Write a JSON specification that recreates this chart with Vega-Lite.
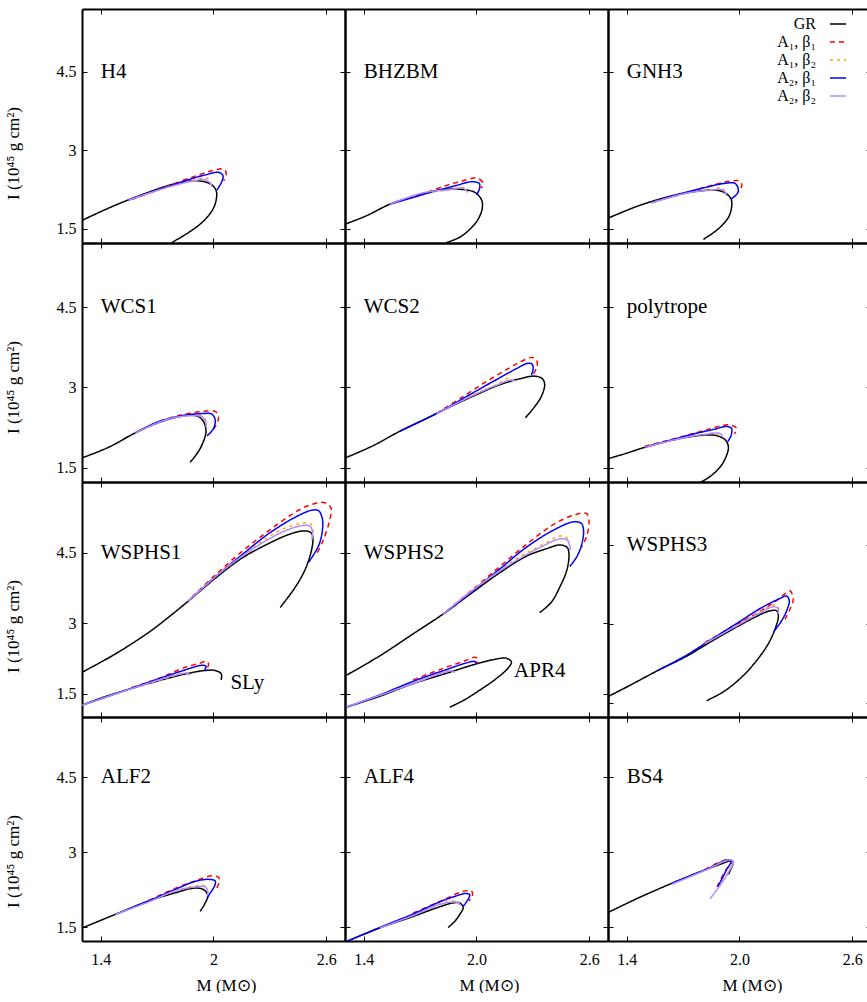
{
"$schema": "https://vega.github.io/schema/vega-lite/v6.json",
"padding": {"left": 4, "top": 8, "right": 0, "bottom": 0},
"datasets": {"curves": [
{"e":"H4","s":"GR","o":1,"M":1.30,"I":1.66},{"e":"H4","s":"GR","o":2,"M":1.406,"I":1.84},{"e":"H4","s":"GR","o":3,"M":1.53,"I":2.03},{"e":"H4","s":"GR","o":4,"M":1.655,"I":2.2},{"e":"H4","s":"GR","o":5,"M":1.761,"I":2.33},{"e":"H4","s":"GR","o":6,"M":1.867,"I":2.41},{"e":"H4","s":"GR","o":7,"M":1.938,"I":2.41},{"e":"H4","s":"GR","o":8,"M":1.991,"I":2.34},{"e":"H4","s":"GR","o":9,"M":2.015,"I":2.22},{"e":"H4","s":"GR","o":10,"M":2.013,"I":2.03},{"e":"H4","s":"GR","o":11,"M":1.991,"I":1.84},{"e":"H4","s":"GR","o":12,"M":1.938,"I":1.62},{"e":"H4","s":"GR","o":13,"M":1.867,"I":1.43},{"e":"H4","s":"GR","o":14,"M":1.779,"I":1.24},
{"e":"H4","s":"A₁, β₁","o":1,"M":1.566,"I":2.06},{"e":"H4","s":"A₁, β₁","o":2,"M":1.708,"I":2.25},{"e":"H4","s":"A₁, β₁","o":3,"M":1.832,"I":2.42},{"e":"H4","s":"A₁, β₁","o":4,"M":1.921,"I":2.53},{"e":"H4","s":"A₁, β₁","o":5,"M":1.991,"I":2.61},{"e":"H4","s":"A₁, β₁","o":6,"M":2.054,"I":2.64},{"e":"H4","s":"A₁, β₁","o":7,"M":2.068,"I":2.56},{"e":"H4","s":"A₁, β₁","o":8,"M":2.054,"I":2.42},
{"e":"H4","s":"A₁, β₂","o":1,"M":1.566,"I":2.06},{"e":"H4","s":"A₁, β₂","o":2,"M":1.743,"I":2.29},{"e":"H4","s":"A₁, β₂","o":3,"M":1.885,"I":2.42},{"e":"H4","s":"A₁, β₂","o":4,"M":1.965,"I":2.47},{"e":"H4","s":"A₁, β₂","o":5,"M":1.983,"I":2.41},{"e":"H4","s":"A₁, β₂","o":6,"M":1.988,"I":2.34},
{"e":"H4","s":"A₂, β₁","o":1,"M":1.548,"I":2.05},{"e":"H4","s":"A₂, β₁","o":2,"M":1.655,"I":2.19},{"e":"H4","s":"A₂, β₁","o":3,"M":1.761,"I":2.31},{"e":"H4","s":"A₂, β₁","o":4,"M":1.867,"I":2.44},{"e":"H4","s":"A₂, β₁","o":5,"M":1.956,"I":2.53},{"e":"H4","s":"A₂, β₁","o":6,"M":2.027,"I":2.58},{"e":"H4","s":"A₂, β₁","o":7,"M":2.05,"I":2.52},{"e":"H4","s":"A₂, β₁","o":8,"M":2.045,"I":2.41},{"e":"H4","s":"A₂, β₁","o":9,"M":2.018,"I":2.24},
{"e":"H4","s":"A₂, β₂","o":1,"M":1.548,"I":2.05},{"e":"H4","s":"A₂, β₂","o":2,"M":1.743,"I":2.28},{"e":"H4","s":"A₂, β₂","o":3,"M":1.885,"I":2.41},{"e":"H4","s":"A₂, β₂","o":4,"M":1.956,"I":2.44},{"e":"H4","s":"A₂, β₂","o":5,"M":1.983,"I":2.37},{"e":"H4","s":"A₂, β₂","o":6,"M":1.991,"I":2.3},

{"e":"BHZBM","s":"GR","o":1,"M":1.308,"I":1.6},{"e":"BHZBM","s":"GR","o":2,"M":1.414,"I":1.75},{"e":"BHZBM","s":"GR","o":3,"M":1.538,"I":1.97},{"e":"BHZBM","s":"GR","o":4,"M":1.663,"I":2.12},{"e":"BHZBM","s":"GR","o":5,"M":1.769,"I":2.22},{"e":"BHZBM","s":"GR","o":6,"M":1.858,"I":2.26},{"e":"BHZBM","s":"GR","o":7,"M":1.929,"I":2.25},{"e":"BHZBM","s":"GR","o":8,"M":1.99,"I":2.2},{"e":"BHZBM","s":"GR","o":9,"M":2.026,"I":2.06},{"e":"BHZBM","s":"GR","o":10,"M":2.031,"I":1.9},{"e":"BHZBM","s":"GR","o":11,"M":2.008,"I":1.68},{"e":"BHZBM","s":"GR","o":12,"M":1.964,"I":1.49},{"e":"BHZBM","s":"GR","o":13,"M":1.911,"I":1.34},{"e":"BHZBM","s":"GR","o":14,"M":1.84,"I":1.24},
{"e":"BHZBM","s":"A₁, β₁","o":1,"M":1.556,"I":2.0},{"e":"BHZBM","s":"A₁, β₁","o":2,"M":1.698,"I":2.15},{"e":"BHZBM","s":"A₁, β₁","o":3,"M":1.84,"I":2.33},{"e":"BHZBM","s":"A₁, β₁","o":4,"M":1.929,"I":2.42},{"e":"BHZBM","s":"A₁, β₁","o":5,"M":2.003,"I":2.47},{"e":"BHZBM","s":"A₁, β₁","o":6,"M":2.035,"I":2.37},{"e":"BHZBM","s":"A₁, β₁","o":7,"M":2.026,"I":2.28},
{"e":"BHZBM","s":"A₁, β₂","o":1,"M":1.556,"I":2.0},{"e":"BHZBM","s":"A₁, β₂","o":2,"M":1.716,"I":2.17},{"e":"BHZBM","s":"A₁, β₂","o":3,"M":1.858,"I":2.25},{"e":"BHZBM","s":"A₁, β₂","o":4,"M":1.929,"I":2.29},{"e":"BHZBM","s":"A₁, β₂","o":5,"M":1.946,"I":2.24},{"e":"BHZBM","s":"A₁, β₂","o":6,"M":1.95,"I":2.2},
{"e":"BHZBM","s":"A₂, β₁","o":1,"M":1.538,"I":1.97},{"e":"BHZBM","s":"A₂, β₁","o":2,"M":1.663,"I":2.1},{"e":"BHZBM","s":"A₂, β₁","o":3,"M":1.787,"I":2.23},{"e":"BHZBM","s":"A₂, β₁","o":4,"M":1.893,"I":2.33},{"e":"BHZBM","s":"A₂, β₁","o":5,"M":1.973,"I":2.4},{"e":"BHZBM","s":"A₂, β₁","o":6,"M":2.014,"I":2.37},{"e":"BHZBM","s":"A₂, β₁","o":7,"M":2.017,"I":2.28},{"e":"BHZBM","s":"A₂, β₁","o":8,"M":2.0,"I":2.15},
{"e":"BHZBM","s":"A₂, β₂","o":1,"M":1.538,"I":1.97},{"e":"BHZBM","s":"A₂, β₂","o":2,"M":1.716,"I":2.19},{"e":"BHZBM","s":"A₂, β₂","o":3,"M":1.858,"I":2.25},{"e":"BHZBM","s":"A₂, β₂","o":4,"M":1.925,"I":2.28},{"e":"BHZBM","s":"A₂, β₂","o":5,"M":1.946,"I":2.23},{"e":"BHZBM","s":"A₂, β₂","o":6,"M":1.95,"I":2.19},

{"e":"GNH3","s":"GR","o":1,"M":1.285,"I":1.68},{"e":"GNH3","s":"GR","o":2,"M":1.462,"I":1.94},{"e":"GNH3","s":"GR","o":3,"M":1.639,"I":2.13},{"e":"GNH3","s":"GR","o":4,"M":1.781,"I":2.22},{"e":"GNH3","s":"GR","o":5,"M":1.87,"I":2.24},{"e":"GNH3","s":"GR","o":6,"M":1.923,"I":2.19},{"e":"GNH3","s":"GR","o":7,"M":1.955,"I":2.07},{"e":"GNH3","s":"GR","o":8,"M":1.958,"I":1.91},{"e":"GNH3","s":"GR","o":9,"M":1.941,"I":1.72},{"e":"GNH3","s":"GR","o":10,"M":1.887,"I":1.5},{"e":"GNH3","s":"GR","o":11,"M":1.808,"I":1.3},
{"e":"GNH3","s":"A₁, β₁","o":1,"M":1.551,"I":2.03},{"e":"GNH3","s":"A₁, β₁","o":2,"M":1.728,"I":2.2},{"e":"GNH3","s":"A₁, β₁","o":3,"M":1.87,"I":2.35},{"e":"GNH3","s":"A₁, β₁","o":4,"M":1.95,"I":2.41},{"e":"GNH3","s":"A₁, β₁","o":5,"M":2.003,"I":2.41},{"e":"GNH3","s":"A₁, β₁","o":6,"M":2.012,"I":2.32},{"e":"GNH3","s":"A₁, β₁","o":7,"M":1.994,"I":2.2},
{"e":"GNH3","s":"A₁, β₂","o":1,"M":1.551,"I":2.02},{"e":"GNH3","s":"A₁, β₂","o":2,"M":1.728,"I":2.19},{"e":"GNH3","s":"A₁, β₂","o":3,"M":1.852,"I":2.25},{"e":"GNH3","s":"A₁, β₂","o":4,"M":1.905,"I":2.29},{"e":"GNH3","s":"A₁, β₂","o":5,"M":1.92,"I":2.22},{"e":"GNH3","s":"A₁, β₂","o":6,"M":1.923,"I":2.18},
{"e":"GNH3","s":"A₂, β₁","o":1,"M":1.533,"I":2.0},{"e":"GNH3","s":"A₂, β₁","o":2,"M":1.675,"I":2.16},{"e":"GNH3","s":"A₂, β₁","o":3,"M":1.817,"I":2.29},{"e":"GNH3","s":"A₂, β₁","o":4,"M":1.923,"I":2.37},{"e":"GNH3","s":"A₂, β₁","o":5,"M":1.976,"I":2.37},{"e":"GNH3","s":"A₂, β₁","o":6,"M":1.994,"I":2.25},{"e":"GNH3","s":"A₂, β₁","o":7,"M":1.985,"I":2.16},{"e":"GNH3","s":"A₂, β₁","o":8,"M":1.955,"I":2.07},
{"e":"GNH3","s":"A₂, β₂","o":1,"M":1.533,"I":2.0},{"e":"GNH3","s":"A₂, β₂","o":2,"M":1.728,"I":2.19},{"e":"GNH3","s":"A₂, β₂","o":3,"M":1.852,"I":2.24},{"e":"GNH3","s":"A₂, β₂","o":4,"M":1.905,"I":2.25},{"e":"GNH3","s":"A₂, β₂","o":5,"M":1.926,"I":2.19},{"e":"GNH3","s":"A₂, β₂","o":6,"M":1.93,"I":2.13},

{"e":"WCS1","s":"GR","o":1,"M":1.3,"I":1.68},{"e":"WCS1","s":"GR","o":2,"M":1.442,"I":1.88},{"e":"WCS1","s":"GR","o":3,"M":1.584,"I":2.15},{"e":"WCS1","s":"GR","o":4,"M":1.708,"I":2.34},{"e":"WCS1","s":"GR","o":5,"M":1.814,"I":2.45},{"e":"WCS1","s":"GR","o":6,"M":1.885,"I":2.48},{"e":"WCS1","s":"GR","o":7,"M":1.921,"I":2.45},{"e":"WCS1","s":"GR","o":8,"M":1.947,"I":2.36},{"e":"WCS1","s":"GR","o":9,"M":1.96,"I":2.17},{"e":"WCS1","s":"GR","o":10,"M":1.938,"I":1.92},{"e":"WCS1","s":"GR","o":11,"M":1.912,"I":1.76},{"e":"WCS1","s":"GR","o":12,"M":1.876,"I":1.6},
{"e":"WCS1","s":"A₁, β₁","o":1,"M":1.584,"I":2.15},{"e":"WCS1","s":"A₁, β₁","o":2,"M":1.726,"I":2.38},{"e":"WCS1","s":"A₁, β₁","o":3,"M":1.85,"I":2.5},{"e":"WCS1","s":"A₁, β₁","o":4,"M":1.947,"I":2.55},{"e":"WCS1","s":"A₁, β₁","o":5,"M":2.009,"I":2.55},{"e":"WCS1","s":"A₁, β₁","o":6,"M":2.027,"I":2.45},{"e":"WCS1","s":"A₁, β₁","o":7,"M":2.013,"I":2.29},{"e":"WCS1","s":"A₁, β₁","o":8,"M":1.983,"I":2.14},
{"e":"WCS1","s":"A₁, β₂","o":1,"M":1.601,"I":2.18},{"e":"WCS1","s":"A₁, β₂","o":2,"M":1.761,"I":2.41},{"e":"WCS1","s":"A₁, β₂","o":3,"M":1.885,"I":2.48},{"e":"WCS1","s":"A₁, β₂","o":4,"M":1.938,"I":2.47},{"e":"WCS1","s":"A₁, β₂","o":5,"M":1.96,"I":2.37},{"e":"WCS1","s":"A₁, β₂","o":6,"M":1.963,"I":2.29},
{"e":"WCS1","s":"A₂, β₁","o":1,"M":1.584,"I":2.15},{"e":"WCS1","s":"A₂, β₁","o":2,"M":1.708,"I":2.36},{"e":"WCS1","s":"A₂, β₁","o":3,"M":1.832,"I":2.47},{"e":"WCS1","s":"A₂, β₁","o":4,"M":1.938,"I":2.51},{"e":"WCS1","s":"A₂, β₁","o":5,"M":1.991,"I":2.5},{"e":"WCS1","s":"A₂, β₁","o":6,"M":2.009,"I":2.39},{"e":"WCS1","s":"A₂, β₁","o":7,"M":2.0,"I":2.23},{"e":"WCS1","s":"A₂, β₁","o":8,"M":1.965,"I":2.09},
{"e":"WCS1","s":"A₂, β₂","o":1,"M":1.584,"I":2.15},{"e":"WCS1","s":"A₂, β₂","o":2,"M":1.761,"I":2.41},{"e":"WCS1","s":"A₂, β₂","o":3,"M":1.885,"I":2.47},{"e":"WCS1","s":"A₂, β₂","o":4,"M":1.938,"I":2.45},{"e":"WCS1","s":"A₂, β₂","o":5,"M":1.96,"I":2.35},{"e":"WCS1","s":"A₂, β₂","o":6,"M":1.96,"I":2.26},

{"e":"WCS2","s":"GR","o":1,"M":1.308,"I":1.69},{"e":"WCS2","s":"GR","o":2,"M":1.45,"I":1.91},{"e":"WCS2","s":"GR","o":3,"M":1.592,"I":2.18},{"e":"WCS2","s":"GR","o":4,"M":1.734,"I":2.42},{"e":"WCS2","s":"GR","o":5,"M":1.875,"I":2.66},{"e":"WCS2","s":"GR","o":6,"M":2.017,"I":2.89},{"e":"WCS2","s":"GR","o":7,"M":2.124,"I":3.05},{"e":"WCS2","s":"GR","o":8,"M":2.23,"I":3.16},{"e":"WCS2","s":"GR","o":9,"M":2.31,"I":3.21},{"e":"WCS2","s":"GR","o":10,"M":2.351,"I":3.16},{"e":"WCS2","s":"GR","o":11,"M":2.363,"I":3.05},{"e":"WCS2","s":"GR","o":12,"M":2.345,"I":2.83},{"e":"WCS2","s":"GR","o":13,"M":2.31,"I":2.64},{"e":"WCS2","s":"GR","o":14,"M":2.26,"I":2.43},
{"e":"WCS2","s":"A₁, β₁","o":1,"M":1.787,"I":2.51},{"e":"WCS2","s":"A₁, β₁","o":2,"M":1.929,"I":2.83},{"e":"WCS2","s":"A₁, β₁","o":3,"M":2.053,"I":3.11},{"e":"WCS2","s":"A₁, β₁","o":4,"M":2.159,"I":3.33},{"e":"WCS2","s":"A₁, β₁","o":5,"M":2.23,"I":3.47},{"e":"WCS2","s":"A₁, β₁","o":6,"M":2.297,"I":3.56},{"e":"WCS2","s":"A₁, β₁","o":7,"M":2.322,"I":3.49},{"e":"WCS2","s":"A₁, β₁","o":8,"M":2.319,"I":3.36},{"e":"WCS2","s":"A₁, β₁","o":9,"M":2.301,"I":3.24},
{"e":"WCS2","s":"A₁, β₂","o":1,"M":1.787,"I":2.51},{"e":"WCS2","s":"A₁, β₂","o":2,"M":1.982,"I":2.86},{"e":"WCS2","s":"A₁, β₂","o":3,"M":2.106,"I":3.05},{"e":"WCS2","s":"A₁, β₂","o":4,"M":2.177,"I":3.18},{"e":"WCS2","s":"A₁, β₂","o":5,"M":2.191,"I":3.15},
{"e":"WCS2","s":"A₂, β₁","o":1,"M":1.592,"I":2.18},{"e":"WCS2","s":"A₂, β₁","o":2,"M":1.787,"I":2.51},{"e":"WCS2","s":"A₂, β₁","o":3,"M":1.982,"I":2.9},{"e":"WCS2","s":"A₂, β₁","o":4,"M":2.124,"I":3.18},{"e":"WCS2","s":"A₂, β₁","o":5,"M":2.212,"I":3.35},{"e":"WCS2","s":"A₂, β₁","o":6,"M":2.274,"I":3.45},{"e":"WCS2","s":"A₂, β₁","o":7,"M":2.297,"I":3.43},{"e":"WCS2","s":"A₂, β₁","o":8,"M":2.301,"I":3.33},{"e":"WCS2","s":"A₂, β₁","o":9,"M":2.292,"I":3.23},
{"e":"WCS2","s":"A₂, β₂","o":1,"M":1.787,"I":2.51},{"e":"WCS2","s":"A₂, β₂","o":2,"M":1.982,"I":2.85},{"e":"WCS2","s":"A₂, β₂","o":3,"M":2.106,"I":3.04},{"e":"WCS2","s":"A₂, β₂","o":4,"M":2.186,"I":3.14},{"e":"WCS2","s":"A₂, β₂","o":5,"M":2.203,"I":3.12},

{"e":"polytrope","s":"GR","o":1,"M":1.285,"I":1.65},{"e":"polytrope","s":"GR","o":2,"M":1.391,"I":1.76},{"e":"polytrope","s":"GR","o":3,"M":1.497,"I":1.88},{"e":"polytrope","s":"GR","o":4,"M":1.639,"I":2.01},{"e":"polytrope","s":"GR","o":5,"M":1.746,"I":2.08},{"e":"polytrope","s":"GR","o":6,"M":1.834,"I":2.11},{"e":"polytrope","s":"GR","o":7,"M":1.887,"I":2.09},{"e":"polytrope","s":"GR","o":8,"M":1.926,"I":2.01},{"e":"polytrope","s":"GR","o":9,"M":1.941,"I":1.88},{"e":"polytrope","s":"GR","o":10,"M":1.923,"I":1.66},{"e":"polytrope","s":"GR","o":11,"M":1.887,"I":1.47},{"e":"polytrope","s":"GR","o":12,"M":1.834,"I":1.31},{"e":"polytrope","s":"GR","o":13,"M":1.79,"I":1.22},
{"e":"polytrope","s":"A₁, β₁","o":1,"M":1.497,"I":1.9},{"e":"polytrope","s":"A₁, β₁","o":2,"M":1.675,"I":2.06},{"e":"polytrope","s":"A₁, β₁","o":3,"M":1.817,"I":2.2},{"e":"polytrope","s":"A₁, β₁","o":4,"M":1.887,"I":2.27},{"e":"polytrope","s":"A₁, β₁","o":5,"M":1.944,"I":2.3},{"e":"polytrope","s":"A₁, β₁","o":6,"M":1.985,"I":2.23},{"e":"polytrope","s":"A₁, β₁","o":7,"M":1.973,"I":2.13},
{"e":"polytrope","s":"A₁, β₂","o":1,"M":1.515,"I":1.91},{"e":"polytrope","s":"A₁, β₂","o":2,"M":1.693,"I":2.05},{"e":"polytrope","s":"A₁, β₂","o":3,"M":1.817,"I":2.12},{"e":"polytrope","s":"A₁, β₂","o":4,"M":1.87,"I":2.15},{"e":"polytrope","s":"A₁, β₂","o":5,"M":1.891,"I":2.1},
{"e":"polytrope","s":"A₂, β₁","o":1,"M":1.497,"I":1.88},{"e":"polytrope","s":"A₂, β₁","o":2,"M":1.639,"I":2.02},{"e":"polytrope","s":"A₂, β₁","o":3,"M":1.781,"I":2.15},{"e":"polytrope","s":"A₂, β₁","o":4,"M":1.87,"I":2.22},{"e":"polytrope","s":"A₂, β₁","o":5,"M":1.932,"I":2.27},{"e":"polytrope","s":"A₂, β₁","o":6,"M":1.958,"I":2.23},{"e":"polytrope","s":"A₂, β₁","o":7,"M":1.955,"I":2.1},{"e":"polytrope","s":"A₂, β₁","o":8,"M":1.937,"I":1.98},
{"e":"polytrope","s":"A₂, β₂","o":1,"M":1.497,"I":1.88},{"e":"polytrope","s":"A₂, β₂","o":2,"M":1.693,"I":2.05},{"e":"polytrope","s":"A₂, β₂","o":3,"M":1.834,"I":2.13},{"e":"polytrope","s":"A₂, β₂","o":4,"M":1.896,"I":2.14},{"e":"polytrope","s":"A₂, β₂","o":5,"M":1.909,"I":2.09},

{"e":"WSPHS1","s":"GR","o":1,"M":1.3,"I":1.95},{"e":"WSPHS1","s":"GR","o":2,"M":1.477,"I":2.34},{"e":"WSPHS1","s":"GR","o":3,"M":1.655,"I":2.8},{"e":"WSPHS1","s":"GR","o":4,"M":1.76,"I":3.12},{"e":"WSPHS1","s":"GR","o":5,"M":1.867,"I":3.47},{"e":"WSPHS1","s":"GR","o":6,"M":2.009,"I":3.95},{"e":"WSPHS1","s":"GR","o":7,"M":2.151,"I":4.38},{"e":"WSPHS1","s":"GR","o":8,"M":2.293,"I":4.69},{"e":"WSPHS1","s":"GR","o":9,"M":2.399,"I":4.88},{"e":"WSPHS1","s":"GR","o":10,"M":2.479,"I":4.96},{"e":"WSPHS1","s":"GR","o":11,"M":2.52,"I":4.92},{"e":"WSPHS1","s":"GR","o":12,"M":2.529,"I":4.78},{"e":"WSPHS1","s":"GR","o":13,"M":2.52,"I":4.52},{"e":"WSPHS1","s":"GR","o":14,"M":2.488,"I":4.14},{"e":"WSPHS1","s":"GR","o":15,"M":2.435,"I":3.76},{"e":"WSPHS1","s":"GR","o":16,"M":2.355,"I":3.33},
{"e":"WSPHS1","s":"A₁, β₁","o":1,"M":1.885,"I":3.55},{"e":"WSPHS1","s":"A₁, β₁","o":2,"M":2.009,"I":4.02},{"e":"WSPHS1","s":"A₁, β₁","o":3,"M":2.151,"I":4.52},{"e":"WSPHS1","s":"A₁, β₁","o":4,"M":2.293,"I":4.96},{"e":"WSPHS1","s":"A₁, β₁","o":5,"M":2.417,"I":5.31},{"e":"WSPHS1","s":"A₁, β₁","o":6,"M":2.506,"I":5.5},{"e":"WSPHS1","s":"A₁, β₁","o":7,"M":2.594,"I":5.56},{"e":"WSPHS1","s":"A₁, β₁","o":8,"M":2.626,"I":5.44},{"e":"WSPHS1","s":"A₁, β₁","o":9,"M":2.616,"I":5.15},{"e":"WSPHS1","s":"A₁, β₁","o":10,"M":2.585,"I":4.77},{"e":"WSPHS1","s":"A₁, β₁","o":11,"M":2.55,"I":4.48},
{"e":"WSPHS1","s":"A₁, β₂","o":1,"M":1.867,"I":3.47},{"e":"WSPHS1","s":"A₁, β₂","o":2,"M":2.045,"I":4.12},{"e":"WSPHS1","s":"A₁, β₂","o":3,"M":2.222,"I":4.64},{"e":"WSPHS1","s":"A₁, β₂","o":4,"M":2.364,"I":4.99},{"e":"WSPHS1","s":"A₁, β₂","o":5,"M":2.47,"I":5.12},{"e":"WSPHS1","s":"A₁, β₂","o":6,"M":2.514,"I":5.12},{"e":"WSPHS1","s":"A₁, β₂","o":7,"M":2.529,"I":4.99},{"e":"WSPHS1","s":"A₁, β₂","o":8,"M":2.527,"I":4.86},
{"e":"WSPHS1","s":"A₂, β₁","o":1,"M":1.867,"I":3.47},{"e":"WSPHS1","s":"A₂, β₁","o":2,"M":2.009,"I":3.98},{"e":"WSPHS1","s":"A₂, β₁","o":3,"M":2.151,"I":4.45},{"e":"WSPHS1","s":"A₂, β₁","o":4,"M":2.293,"I":4.9},{"e":"WSPHS1","s":"A₂, β₁","o":5,"M":2.435,"I":5.25},{"e":"WSPHS1","s":"A₂, β₁","o":6,"M":2.523,"I":5.4},{"e":"WSPHS1","s":"A₂, β₁","o":7,"M":2.559,"I":5.39},{"e":"WSPHS1","s":"A₂, β₁","o":8,"M":2.58,"I":5.21},{"e":"WSPHS1","s":"A₂, β₁","o":9,"M":2.577,"I":4.9},{"e":"WSPHS1","s":"A₂, β₁","o":10,"M":2.559,"I":4.64},{"e":"WSPHS1","s":"A₂, β₁","o":11,"M":2.523,"I":4.39},{"e":"WSPHS1","s":"A₂, β₁","o":12,"M":2.506,"I":4.29},
{"e":"WSPHS1","s":"A₂, β₂","o":1,"M":1.867,"I":3.47},{"e":"WSPHS1","s":"A₂, β₂","o":2,"M":2.045,"I":4.1},{"e":"WSPHS1","s":"A₂, β₂","o":3,"M":2.222,"I":4.61},{"e":"WSPHS1","s":"A₂, β₂","o":4,"M":2.364,"I":4.93},{"e":"WSPHS1","s":"A₂, β₂","o":5,"M":2.47,"I":5.07},{"e":"WSPHS1","s":"A₂, β₂","o":6,"M":2.514,"I":5.06},{"e":"WSPHS1","s":"A₂, β₂","o":7,"M":2.527,"I":4.93},{"e":"WSPHS1","s":"A₂, β₂","o":8,"M":2.523,"I":4.77},

{"e":"SLy","s":"GR","o":1,"M":1.3,"I":1.25},{"e":"SLy","s":"GR","o":2,"M":1.406,"I":1.41},{"e":"SLy","s":"GR","o":3,"M":1.566,"I":1.61},{"e":"SLy","s":"GR","o":4,"M":1.726,"I":1.79},{"e":"SLy","s":"GR","o":5,"M":1.867,"I":1.93},{"e":"SLy","s":"GR","o":6,"M":1.956,"I":1.99},{"e":"SLy","s":"GR","o":7,"M":2.009,"I":1.99},{"e":"SLy","s":"GR","o":8,"M":2.041,"I":1.92},{"e":"SLy","s":"GR","o":9,"M":2.041,"I":1.79},
{"e":"SLy","s":"A₁, β₁","o":1,"M":1.566,"I":1.63},{"e":"SLy","s":"A₁, β₁","o":2,"M":1.708,"I":1.82},{"e":"SLy","s":"A₁, β₁","o":3,"M":1.832,"I":2.03},{"e":"SLy","s":"A₁, β₁","o":4,"M":1.921,"I":2.14},{"e":"SLy","s":"A₁, β₁","o":5,"M":1.965,"I":2.18},{"e":"SLy","s":"A₁, β₁","o":6,"M":1.974,"I":2.11},{"e":"SLy","s":"A₁, β₁","o":7,"M":1.96,"I":2.01},
{"e":"SLy","s":"A₁, β₂","o":1,"M":1.566,"I":1.61},{"e":"SLy","s":"A₁, β₂","o":2,"M":1.743,"I":1.82},{"e":"SLy","s":"A₁, β₂","o":3,"M":1.832,"I":1.92},{"e":"SLy","s":"A₁, β₂","o":4,"M":1.864,"I":1.93},{"e":"SLy","s":"A₁, β₂","o":5,"M":1.876,"I":1.89},
{"e":"SLy","s":"A₂, β₁","o":1,"M":1.3,"I":1.25},{"e":"SLy","s":"A₂, β₁","o":2,"M":1.477,"I":1.49},{"e":"SLy","s":"A₂, β₁","o":3,"M":1.655,"I":1.74},{"e":"SLy","s":"A₂, β₁","o":4,"M":1.832,"I":1.98},{"e":"SLy","s":"A₂, β₁","o":5,"M":1.938,"I":2.1},{"e":"SLy","s":"A₂, β₁","o":6,"M":1.96,"I":2.08},{"e":"SLy","s":"A₂, β₁","o":7,"M":1.952,"I":1.99},
{"e":"SLy","s":"A₂, β₂","o":1,"M":1.3,"I":1.25},{"e":"SLy","s":"A₂, β₂","o":2,"M":1.477,"I":1.49},{"e":"SLy","s":"A₂, β₂","o":3,"M":1.655,"I":1.72},{"e":"SLy","s":"A₂, β₂","o":4,"M":1.796,"I":1.89},{"e":"SLy","s":"A₂, β₂","o":5,"M":1.864,"I":1.93},{"e":"SLy","s":"A₂, β₂","o":6,"M":1.871,"I":1.89},

{"e":"WSPHS2","s":"GR","o":1,"M":1.308,"I":1.89},{"e":"WSPHS2","s":"GR","o":2,"M":1.485,"I":2.3},{"e":"WSPHS2","s":"GR","o":3,"M":1.663,"I":2.77},{"e":"WSPHS2","s":"GR","o":4,"M":1.822,"I":3.19},{"e":"WSPHS2","s":"GR","o":5,"M":1.982,"I":3.66},{"e":"WSPHS2","s":"GR","o":6,"M":2.124,"I":4.07},{"e":"WSPHS2","s":"GR","o":7,"M":2.265,"I":4.42},{"e":"WSPHS2","s":"GR","o":8,"M":2.372,"I":4.58},{"e":"WSPHS2","s":"GR","o":9,"M":2.443,"I":4.66},{"e":"WSPHS2","s":"GR","o":10,"M":2.482,"I":4.61},{"e":"WSPHS2","s":"GR","o":11,"M":2.492,"I":4.48},{"e":"WSPHS2","s":"GR","o":12,"M":2.482,"I":4.14},{"e":"WSPHS2","s":"GR","o":13,"M":2.443,"I":3.76},{"e":"WSPHS2","s":"GR","o":14,"M":2.398,"I":3.44},{"e":"WSPHS2","s":"GR","o":15,"M":2.336,"I":3.22},
{"e":"WSPHS2","s":"A₁, β₁","o":1,"M":1.84,"I":3.25},{"e":"WSPHS2","s":"A₁, β₁","o":2,"M":1.982,"I":3.72},{"e":"WSPHS2","s":"A₁, β₁","o":3,"M":2.124,"I":4.2},{"e":"WSPHS2","s":"A₁, β₁","o":4,"M":2.265,"I":4.67},{"e":"WSPHS2","s":"A₁, β₁","o":5,"M":2.407,"I":5.09},{"e":"WSPHS2","s":"A₁, β₁","o":6,"M":2.514,"I":5.29},{"e":"WSPHS2","s":"A₁, β₁","o":7,"M":2.585,"I":5.33},{"e":"WSPHS2","s":"A₁, β₁","o":8,"M":2.599,"I":5.15},{"e":"WSPHS2","s":"A₁, β₁","o":9,"M":2.585,"I":4.83},{"e":"WSPHS2","s":"A₁, β₁","o":10,"M":2.558,"I":4.61},
{"e":"WSPHS2","s":"A₁, β₂","o":1,"M":1.822,"I":3.19},{"e":"WSPHS2","s":"A₁, β₂","o":2,"M":2.017,"I":3.82},{"e":"WSPHS2","s":"A₁, β₂","o":3,"M":2.195,"I":4.33},{"e":"WSPHS2","s":"A₁, β₂","o":4,"M":2.354,"I":4.67},{"e":"WSPHS2","s":"A₁, β₂","o":5,"M":2.443,"I":4.85},{"e":"WSPHS2","s":"A₁, β₂","o":6,"M":2.478,"I":4.83},{"e":"WSPHS2","s":"A₁, β₂","o":7,"M":2.492,"I":4.71},
{"e":"WSPHS2","s":"A₂, β₁","o":1,"M":1.822,"I":3.19},{"e":"WSPHS2","s":"A₂, β₁","o":2,"M":1.982,"I":3.69},{"e":"WSPHS2","s":"A₂, β₁","o":3,"M":2.124,"I":4.15},{"e":"WSPHS2","s":"A₂, β₁","o":4,"M":2.265,"I":4.61},{"e":"WSPHS2","s":"A₂, β₁","o":5,"M":2.407,"I":4.97},{"e":"WSPHS2","s":"A₂, β₁","o":6,"M":2.514,"I":5.15},{"e":"WSPHS2","s":"A₂, β₁","o":7,"M":2.558,"I":5.12},{"e":"WSPHS2","s":"A₂, β₁","o":8,"M":2.57,"I":4.96},{"e":"WSPHS2","s":"A₂, β₁","o":9,"M":2.558,"I":4.64},{"e":"WSPHS2","s":"A₂, β₁","o":10,"M":2.531,"I":4.39},{"e":"WSPHS2","s":"A₂, β₁","o":11,"M":2.496,"I":4.2},
{"e":"WSPHS2","s":"A₂, β₂","o":1,"M":1.822,"I":3.19},{"e":"WSPHS2","s":"A₂, β₂","o":2,"M":2.017,"I":3.81},{"e":"WSPHS2","s":"A₂, β₂","o":3,"M":2.195,"I":4.29},{"e":"WSPHS2","s":"A₂, β₂","o":4,"M":2.354,"I":4.64},{"e":"WSPHS2","s":"A₂, β₂","o":5,"M":2.443,"I":4.79},{"e":"WSPHS2","s":"A₂, β₂","o":6,"M":2.482,"I":4.77},{"e":"WSPHS2","s":"A₂, β₂","o":7,"M":2.496,"I":4.64},{"e":"WSPHS2","s":"A₂, β₂","o":8,"M":2.5,"I":4.55},

{"e":"APR4","s":"GR","o":1,"M":1.308,"I":1.21},{"e":"APR4","s":"GR","o":2,"M":1.485,"I":1.44},{"e":"APR4","s":"GR","o":3,"M":1.663,"I":1.71},{"e":"APR4","s":"GR","o":4,"M":1.84,"I":1.93},{"e":"APR4","s":"GR","o":5,"M":1.982,"I":2.11},{"e":"APR4","s":"GR","o":6,"M":2.088,"I":2.22},{"e":"APR4","s":"GR","o":7,"M":2.159,"I":2.25},{"e":"APR4","s":"GR","o":8,"M":2.186,"I":2.17},{"e":"APR4","s":"GR","o":9,"M":2.168,"I":2.04},{"e":"APR4","s":"GR","o":10,"M":2.106,"I":1.82},{"e":"APR4","s":"GR","o":11,"M":2.017,"I":1.57},{"e":"APR4","s":"GR","o":12,"M":1.929,"I":1.35},{"e":"APR4","s":"GR","o":13,"M":1.858,"I":1.21},
{"e":"APR4","s":"A₁, β₁","o":1,"M":1.663,"I":1.79},{"e":"APR4","s":"A₁, β₁","o":2,"M":1.84,"I":2.06},{"e":"APR4","s":"A₁, β₁","o":3,"M":1.929,"I":2.18},{"e":"APR4","s":"A₁, β₁","o":4,"M":1.991,"I":2.27},{"e":"APR4","s":"A₁, β₁","o":5,"M":2.008,"I":2.24},{"e":"APR4","s":"A₁, β₁","o":6,"M":2.0,"I":2.14},
{"e":"APR4","s":"A₁, β₂","o":1,"M":1.485,"I":1.46},{"e":"APR4","s":"A₁, β₂","o":2,"M":1.663,"I":1.72},{"e":"APR4","s":"A₁, β₂","o":3,"M":1.804,"I":1.93},{"e":"APR4","s":"A₁, β₂","o":4,"M":1.858,"I":1.99},{"e":"APR4","s":"A₁, β₂","o":5,"M":1.872,"I":1.97},
{"e":"APR4","s":"A₂, β₁","o":1,"M":1.308,"I":1.21},{"e":"APR4","s":"A₂, β₁","o":2,"M":1.485,"I":1.47},{"e":"APR4","s":"A₂, β₁","o":3,"M":1.663,"I":1.76},{"e":"APR4","s":"A₂, β₁","o":4,"M":1.84,"I":2.01},{"e":"APR4","s":"A₂, β₁","o":5,"M":1.946,"I":2.15},{"e":"APR4","s":"A₂, β₁","o":6,"M":1.991,"I":2.18},{"e":"APR4","s":"A₂, β₁","o":7,"M":2.0,"I":2.12},
{"e":"APR4","s":"A₂, β₂","o":1,"M":1.308,"I":1.21},{"e":"APR4","s":"A₂, β₂","o":2,"M":1.485,"I":1.46},{"e":"APR4","s":"A₂, β₂","o":3,"M":1.663,"I":1.71},{"e":"APR4","s":"A₂, β₂","o":4,"M":1.804,"I":1.92},{"e":"APR4","s":"A₂, β₂","o":5,"M":1.872,"I":1.98},{"e":"APR4","s":"A₂, β₂","o":6,"M":1.884,"I":1.94},

{"e":"WSPHS3","s":"GR","o":1,"M":1.285,"I":1.59},{"e":"WSPHS3","s":"GR","o":2,"M":1.426,"I":1.85},{"e":"WSPHS3","s":"GR","o":3,"M":1.568,"I":2.12},{"e":"WSPHS3","s":"GR","o":4,"M":1.71,"I":2.37},{"e":"WSPHS3","s":"GR","o":5,"M":1.852,"I":2.67},{"e":"WSPHS3","s":"GR","o":6,"M":1.994,"I":2.96},{"e":"WSPHS3","s":"GR","o":7,"M":2.083,"I":3.13},{"e":"WSPHS3","s":"GR","o":8,"M":2.153,"I":3.24},{"e":"WSPHS3","s":"GR","o":9,"M":2.198,"I":3.25},{"e":"WSPHS3","s":"GR","o":10,"M":2.207,"I":3.15},{"e":"WSPHS3","s":"GR","o":11,"M":2.192,"I":2.93},{"e":"WSPHS3","s":"GR","o":12,"M":2.162,"I":2.68},{"e":"WSPHS3","s":"GR","o":13,"M":2.118,"I":2.43},{"e":"WSPHS3","s":"GR","o":14,"M":2.029,"I":2.05},{"e":"WSPHS3","s":"GR","o":15,"M":1.923,"I":1.73},{"e":"WSPHS3","s":"GR","o":16,"M":1.825,"I":1.54},
{"e":"WSPHS3","s":"A₁, β₁","o":1,"M":1.816,"I":2.65},{"e":"WSPHS3","s":"A₁, β₁","o":2,"M":1.941,"I":2.9},{"e":"WSPHS3","s":"A₁, β₁","o":3,"M":2.065,"I":3.15},{"e":"WSPHS3","s":"A₁, β₁","o":4,"M":2.171,"I":3.38},{"e":"WSPHS3","s":"A₁, β₁","o":5,"M":2.242,"I":3.57},{"e":"WSPHS3","s":"A₁, β₁","o":6,"M":2.269,"I":3.63},{"e":"WSPHS3","s":"A₁, β₁","o":7,"M":2.286,"I":3.47},{"e":"WSPHS3","s":"A₁, β₁","o":8,"M":2.269,"I":3.28},{"e":"WSPHS3","s":"A₁, β₁","o":9,"M":2.242,"I":3.09},
{"e":"WSPHS3","s":"A₁, β₂","o":1,"M":1.816,"I":2.63},{"e":"WSPHS3","s":"A₁, β₂","o":2,"M":1.994,"I":3.0},{"e":"WSPHS3","s":"A₁, β₂","o":3,"M":2.118,"I":3.25},{"e":"WSPHS3","s":"A₁, β₂","o":4,"M":2.18,"I":3.36},{"e":"WSPHS3","s":"A₁, β₂","o":5,"M":2.203,"I":3.34},{"e":"WSPHS3","s":"A₁, β₂","o":6,"M":2.21,"I":3.25},
{"e":"WSPHS3","s":"A₂, β₁","o":1,"M":1.568,"I":2.12},{"e":"WSPHS3","s":"A₂, β₁","o":2,"M":1.71,"I":2.39},{"e":"WSPHS3","s":"A₂, β₁","o":3,"M":1.852,"I":2.71},{"e":"WSPHS3","s":"A₂, β₁","o":4,"M":1.994,"I":3.03},{"e":"WSPHS3","s":"A₂, β₁","o":5,"M":2.118,"I":3.31},{"e":"WSPHS3","s":"A₂, β₁","o":6,"M":2.207,"I":3.47},{"e":"WSPHS3","s":"A₂, β₁","o":7,"M":2.251,"I":3.53},{"e":"WSPHS3","s":"A₂, β₁","o":8,"M":2.265,"I":3.44},{"e":"WSPHS3","s":"A₂, β₁","o":9,"M":2.251,"I":3.25},{"e":"WSPHS3","s":"A₂, β₁","o":10,"M":2.224,"I":3.06},{"e":"WSPHS3","s":"A₂, β₁","o":11,"M":2.18,"I":2.84},
{"e":"WSPHS3","s":"A₂, β₂","o":1,"M":1.816,"I":2.63},{"e":"WSPHS3","s":"A₂, β₂","o":2,"M":1.994,"I":2.98},{"e":"WSPHS3","s":"A₂, β₂","o":3,"M":2.118,"I":3.23},{"e":"WSPHS3","s":"A₂, β₂","o":4,"M":2.18,"I":3.33},{"e":"WSPHS3","s":"A₂, β₂","o":5,"M":2.203,"I":3.3},{"e":"WSPHS3","s":"A₂, β₂","o":6,"M":2.207,"I":3.19},

{"e":"ALF2","s":"GR","o":1,"M":1.3,"I":1.49},{"e":"ALF2","s":"GR","o":2,"M":1.477,"I":1.76},{"e":"ALF2","s":"GR","o":3,"M":1.655,"I":2.03},{"e":"ALF2","s":"GR","o":4,"M":1.796,"I":2.19},{"e":"ALF2","s":"GR","o":5,"M":1.885,"I":2.28},{"e":"ALF2","s":"GR","o":6,"M":1.929,"I":2.28},{"e":"ALF2","s":"GR","o":7,"M":1.956,"I":2.23},{"e":"ALF2","s":"GR","o":8,"M":1.97,"I":2.13},{"e":"ALF2","s":"GR","o":9,"M":1.956,"I":1.99},{"e":"ALF2","s":"GR","o":10,"M":1.929,"I":1.82},
{"e":"ALF2","s":"A₁, β₁","o":1,"M":1.655,"I":2.04},{"e":"ALF2","s":"A₁, β₁","o":2,"M":1.796,"I":2.28},{"e":"ALF2","s":"A₁, β₁","o":3,"M":1.903,"I":2.43},{"e":"ALF2","s":"A₁, β₁","o":4,"M":1.991,"I":2.53},{"e":"ALF2","s":"A₁, β₁","o":5,"M":2.027,"I":2.5},{"e":"ALF2","s":"A₁, β₁","o":6,"M":2.03,"I":2.4},{"e":"ALF2","s":"A₁, β₁","o":7,"M":2.018,"I":2.29},
{"e":"ALF2","s":"A₁, β₂","o":1,"M":1.655,"I":2.03},{"e":"ALF2","s":"A₁, β₂","o":2,"M":1.796,"I":2.23},{"e":"ALF2","s":"A₁, β₂","o":3,"M":1.903,"I":2.33},{"e":"ALF2","s":"A₁, β₂","o":4,"M":1.956,"I":2.33},{"e":"ALF2","s":"A₁, β₂","o":5,"M":1.97,"I":2.26},
{"e":"ALF2","s":"A₂, β₁","o":1,"M":1.477,"I":1.76},{"e":"ALF2","s":"A₂, β₁","o":2,"M":1.655,"I":2.03},{"e":"ALF2","s":"A₂, β₁","o":3,"M":1.796,"I":2.26},{"e":"ALF2","s":"A₂, β₁","o":4,"M":1.903,"I":2.42},{"e":"ALF2","s":"A₂, β₁","o":5,"M":1.974,"I":2.46},{"e":"ALF2","s":"A₂, β₁","o":6,"M":2.009,"I":2.43},{"e":"ALF2","s":"A₂, β₁","o":7,"M":2.006,"I":2.33},{"e":"ALF2","s":"A₂, β₁","o":8,"M":1.983,"I":2.19},{"e":"ALF2","s":"A₂, β₁","o":9,"M":1.965,"I":2.08},
{"e":"ALF2","s":"A₂, β₂","o":1,"M":1.477,"I":1.76},{"e":"ALF2","s":"A₂, β₂","o":2,"M":1.655,"I":2.01},{"e":"ALF2","s":"A₂, β₂","o":3,"M":1.796,"I":2.23},{"e":"ALF2","s":"A₂, β₂","o":4,"M":1.903,"I":2.31},{"e":"ALF2","s":"A₂, β₂","o":5,"M":1.956,"I":2.31},{"e":"ALF2","s":"A₂, β₂","o":6,"M":1.97,"I":2.21},{"e":"ALF2","s":"A₂, β₂","o":7,"M":1.967,"I":2.13},

{"e":"ALF4","s":"GR","o":1,"M":1.308,"I":1.22},{"e":"ALF4","s":"GR","o":2,"M":1.485,"I":1.49},{"e":"ALF4","s":"GR","o":3,"M":1.663,"I":1.72},{"e":"ALF4","s":"GR","o":4,"M":1.787,"I":1.89},{"e":"ALF4","s":"GR","o":5,"M":1.875,"I":1.99},{"e":"ALF4","s":"GR","o":6,"M":1.911,"I":1.99},{"e":"ALF4","s":"GR","o":7,"M":1.929,"I":1.9},{"e":"ALF4","s":"GR","o":8,"M":1.911,"I":1.76},{"e":"ALF4","s":"GR","o":9,"M":1.884,"I":1.62},{"e":"ALF4","s":"GR","o":10,"M":1.849,"I":1.5},
{"e":"ALF4","s":"A₁, β₁","o":1,"M":1.663,"I":1.79},{"e":"ALF4","s":"A₁, β₁","o":2,"M":1.787,"I":1.99},{"e":"ALF4","s":"A₁, β₁","o":3,"M":1.858,"I":2.11},{"e":"ALF4","s":"A₁, β₁","o":4,"M":1.92,"I":2.21},{"e":"ALF4","s":"A₁, β₁","o":5,"M":1.973,"I":2.23},{"e":"ALF4","s":"A₁, β₁","o":6,"M":1.978,"I":2.13},{"e":"ALF4","s":"A₁, β₁","o":7,"M":1.96,"I":2.03},
{"e":"ALF4","s":"A₁, β₂","o":1,"M":1.485,"I":1.49},{"e":"ALF4","s":"A₁, β₂","o":2,"M":1.663,"I":1.76},{"e":"ALF4","s":"A₁, β₂","o":3,"M":1.804,"I":1.97},{"e":"ALF4","s":"A₁, β₂","o":4,"M":1.875,"I":2.03},{"e":"ALF4","s":"A₁, β₂","o":5,"M":1.902,"I":2.01},{"e":"ALF4","s":"A₁, β₂","o":6,"M":1.911,"I":1.96},
{"e":"ALF4","s":"A₂, β₁","o":1,"M":1.308,"I":1.22},{"e":"ALF4","s":"A₂, β₁","o":2,"M":1.485,"I":1.5},{"e":"ALF4","s":"A₂, β₁","o":3,"M":1.663,"I":1.77},{"e":"ALF4","s":"A₂, β₁","o":4,"M":1.804,"I":2.01},{"e":"ALF4","s":"A₂, β₁","o":5,"M":1.893,"I":2.13},{"e":"ALF4","s":"A₂, β₁","o":6,"M":1.946,"I":2.18},{"e":"ALF4","s":"A₂, β₁","o":7,"M":1.964,"I":2.15},{"e":"ALF4","s":"A₂, β₁","o":8,"M":1.955,"I":2.06},{"e":"ALF4","s":"A₂, β₁","o":9,"M":1.929,"I":1.92},
{"e":"ALF4","s":"A₂, β₂","o":1,"M":1.485,"I":1.49},{"e":"ALF4","s":"A₂, β₂","o":2,"M":1.663,"I":1.74},{"e":"ALF4","s":"A₂, β₂","o":3,"M":1.804,"I":1.96},{"e":"ALF4","s":"A₂, β₂","o":4,"M":1.875,"I":2.01},{"e":"ALF4","s":"A₂, β₂","o":5,"M":1.904,"I":1.99},{"e":"ALF4","s":"A₂, β₂","o":6,"M":1.911,"I":1.94},

{"e":"BS4","s":"GR","o":1,"M":1.285,"I":1.77},{"e":"BS4","s":"GR","o":2,"M":1.462,"I":2.09},{"e":"BS4","s":"GR","o":3,"M":1.639,"I":2.38},{"e":"BS4","s":"GR","o":4,"M":1.817,"I":2.65},{"e":"BS4","s":"GR","o":5,"M":1.905,"I":2.77},{"e":"BS4","s":"GR","o":6,"M":1.95,"I":2.83},{"e":"BS4","s":"GR","o":7,"M":1.967,"I":2.81},{"e":"BS4","s":"GR","o":8,"M":1.958,"I":2.7},{"e":"BS4","s":"GR","o":9,"M":1.941,"I":2.56},
{"e":"BS4","s":"A₁, β₁","o":1,"M":1.817,"I":2.66},{"e":"BS4","s":"A₁, β₁","o":2,"M":1.941,"I":2.86},{"e":"BS4","s":"A₁, β₁","o":3,"M":1.958,"I":2.82},{"e":"BS4","s":"A₁, β₁","o":4,"M":1.923,"I":2.62},{"e":"BS4","s":"A₁, β₁","o":5,"M":1.887,"I":2.36},{"e":"BS4","s":"A₁, β₁","o":6,"M":1.87,"I":2.23},
{"e":"BS4","s":"A₁, β₂","o":1,"M":1.817,"I":2.65},{"e":"BS4","s":"A₁, β₂","o":2,"M":1.95,"I":2.85},{"e":"BS4","s":"A₁, β₂","o":3,"M":1.962,"I":2.8},{"e":"BS4","s":"A₁, β₂","o":4,"M":1.932,"I":2.56},{"e":"BS4","s":"A₁, β₂","o":5,"M":1.896,"I":2.33},
{"e":"BS4","s":"A₂, β₁","o":1,"M":1.639,"I":2.38},{"e":"BS4","s":"A₂, β₁","o":2,"M":1.817,"I":2.65},{"e":"BS4","s":"A₂, β₁","o":3,"M":1.941,"I":2.85},{"e":"BS4","s":"A₂, β₁","o":4,"M":1.955,"I":2.82},{"e":"BS4","s":"A₂, β₁","o":5,"M":1.932,"I":2.66},{"e":"BS4","s":"A₂, β₁","o":6,"M":1.905,"I":2.46},{"e":"BS4","s":"A₂, β₁","o":7,"M":1.884,"I":2.31},
{"e":"BS4","s":"A₂, β₂","o":1,"M":1.639,"I":2.36},{"e":"BS4","s":"A₂, β₂","o":2,"M":1.817,"I":2.64},{"e":"BS4","s":"A₂, β₂","o":3,"M":1.95,"I":2.85},{"e":"BS4","s":"A₂, β₂","o":4,"M":1.967,"I":2.81},{"e":"BS4","s":"A₂, β₂","o":5,"M":1.941,"I":2.6},{"e":"BS4","s":"A₂, β₂","o":6,"M":1.887,"I":2.29},{"e":"BS4","s":"A₂, β₂","o":7,"M":1.843,"I":2.07}
]},
"columns": 3,
"spacing": 0,
"bounds": "flush",
"concat": [
{"width": 263, "height": 234, "layer": [
 {"data": {"name": "curves"}, "transform": [{"filter": "datum.e=='H4'"}], "mark": {"type": "line", "clip": true, "interpolate": "catmull-rom"},
  "encoding": {"x": {"field": "M", "type": "quantitative", "scale": {"domain": [1.3, 2.7]}, "axis": {"orient": "bottom", "values": [1.4, 2, 2.6], "labels": false, "title": null}},
   "y": {"field": "I", "type": "quantitative", "scale": {"domain": [1.23, 5.7]}, "axis": {"orient": "left", "values": [1.5, 3, 4.5], "format": ".2~f", "title": "I (10⁴⁵ g cm²)"}},
   "color": {"field": "s", "type": "nominal", "scale": {"domain": ["GR", "A₁, β₁", "A₁, β₂", "A₂, β₁", "A₂, β₂"], "range": ["#000000", "#ff0000", "#ffa500", "#0000ff", "#b48cff"]}, "legend": {"title": null}},
   "strokeDash": {"field": "s", "type": "nominal", "scale": {"domain": ["GR", "A₁, β₁", "A₁, β₂", "A₂, β₁", "A₂, β₂"], "range": [[1, 0], [5, 4], [3, 4], [1, 0], [1, 0]]}, "legend": {"title": null}},
   "strokeWidth": {"field": "s", "type": "nominal", "scale": {"domain": ["GR", "A₁, β₁", "A₁, β₂", "A₂, β₁", "A₂, β₂"], "range": [1.5, 1.5, 1.5, 2, 1.5]}, "legend": {"title": null}},
   "detail": {"field": "e"}, "order": {"field": "o", "type": "quantitative"}}},
 {"data": {"values": [{"t": "H4"}]}, "mark": {"type": "text", "align": "left", "baseline": "middle", "fontSize": 21, "font": "Liberation Serif", "color": "#000"},
  "encoding": {"x": {"datum": 1.4, "type": "quantitative", "scale": {"domain": [1.3, 2.7]}, "axis": {"orient": "top", "values": [1.4, 2, 2.6], "labels": false, "title": null}},
   "y": {"datum": 4.5, "type": "quantitative", "scale": {"domain": [1.23, 5.7]}, "axis": {"orient": "right", "values": [1.5, 3, 4.5], "labels": false, "title": null}}, "text": {"field": "t"}}}
], "resolve": {"axis": {"x": "independent", "y": "independent"}}},

{"width": 263, "height": 234, "layer": [
 {"data": {"name": "curves"}, "transform": [{"filter": "datum.e=='BHZBM'"}], "mark": {"type": "line", "clip": true, "interpolate": "catmull-rom"},
  "encoding": {"x": {"field": "M", "type": "quantitative", "scale": {"domain": [1.3, 2.7]}, "axis": {"orient": "bottom", "values": [1.4, 2, 2.6], "labels": false, "title": null}},
   "y": {"field": "I", "type": "quantitative", "scale": {"domain": [1.23, 5.7]}, "axis": {"orient": "left", "values": [1.5, 3, 4.5], "labels": false, "title": null}},
   "color": {"field": "s", "type": "nominal", "scale": {"domain": ["GR", "A₁, β₁", "A₁, β₂", "A₂, β₁", "A₂, β₂"], "range": ["#000000", "#ff0000", "#ffa500", "#0000ff", "#b48cff"]}, "legend": {"title": null}},
   "strokeDash": {"field": "s", "type": "nominal", "scale": {"domain": ["GR", "A₁, β₁", "A₁, β₂", "A₂, β₁", "A₂, β₂"], "range": [[1, 0], [5, 4], [3, 4], [1, 0], [1, 0]]}, "legend": {"title": null}},
   "strokeWidth": {"field": "s", "type": "nominal", "scale": {"domain": ["GR", "A₁, β₁", "A₁, β₂", "A₂, β₁", "A₂, β₂"], "range": [1.5, 1.5, 1.5, 2, 1.5]}, "legend": {"title": null}},
   "detail": {"field": "e"}, "order": {"field": "o", "type": "quantitative"}}},
 {"data": {"values": [{"t": "BHZBM"}]}, "mark": {"type": "text", "align": "left", "baseline": "middle", "fontSize": 21, "font": "Liberation Serif", "color": "#000"},
  "encoding": {"x": {"datum": 1.4, "type": "quantitative", "scale": {"domain": [1.3, 2.7]}, "axis": {"orient": "top", "values": [1.4, 2, 2.6], "labels": false, "title": null}},
   "y": {"datum": 4.5, "type": "quantitative", "scale": {"domain": [1.23, 5.7]}, "axis": {"orient": "right", "values": [1.5, 3, 4.5], "labels": false, "title": null}}, "text": {"field": "t"}}}
], "resolve": {"axis": {"x": "independent", "y": "independent"}}},

{"width": 263, "height": 234, "layer": [
 {"data": {"name": "curves"}, "transform": [{"filter": "datum.e=='GNH3'"}], "mark": {"type": "line", "clip": true, "interpolate": "catmull-rom"},
  "encoding": {"x": {"field": "M", "type": "quantitative", "scale": {"domain": [1.3, 2.7]}, "axis": {"orient": "bottom", "values": [1.4, 2, 2.6], "labels": false, "title": null}},
   "y": {"field": "I", "type": "quantitative", "scale": {"domain": [1.23, 5.7]}, "axis": {"orient": "left", "values": [1.5, 3, 4.5], "labels": false, "title": null}},
   "color": {"field": "s", "type": "nominal", "scale": {"domain": ["GR", "A₁, β₁", "A₁, β₂", "A₂, β₁", "A₂, β₂"], "range": ["#000000", "#ff0000", "#ffa500", "#0000ff", "#b48cff"]}, "legend": {"title": null}},
   "strokeDash": {"field": "s", "type": "nominal", "scale": {"domain": ["GR", "A₁, β₁", "A₁, β₂", "A₂, β₁", "A₂, β₂"], "range": [[1, 0], [5, 4], [3, 4], [1, 0], [1, 0]]}, "legend": {"title": null}},
   "strokeWidth": {"field": "s", "type": "nominal", "scale": {"domain": ["GR", "A₁, β₁", "A₁, β₂", "A₂, β₁", "A₂, β₂"], "range": [1.5, 1.5, 1.5, 2, 1.5]}, "legend": {"title": null}},
   "detail": {"field": "e"}, "order": {"field": "o", "type": "quantitative"}}},
 {"data": {"values": [{"t": "GNH3"}]}, "mark": {"type": "text", "align": "left", "baseline": "middle", "fontSize": 21, "font": "Liberation Serif", "color": "#000"},
  "encoding": {"x": {"datum": 1.4, "type": "quantitative", "scale": {"domain": [1.3, 2.7]}, "axis": {"orient": "top", "values": [1.4, 2, 2.6], "labels": false, "title": null}},
   "y": {"datum": 4.5, "type": "quantitative", "scale": {"domain": [1.23, 5.7]}, "axis": {"orient": "right", "values": [1.5, 3, 4.5], "labels": false, "title": null}}, "text": {"field": "t"}}}
], "resolve": {"axis": {"x": "independent", "y": "independent"}}},

{"width": 263, "height": 239, "layer": [
 {"data": {"name": "curves"}, "transform": [{"filter": "datum.e=='WCS1'"}], "mark": {"type": "line", "clip": true, "interpolate": "catmull-rom"},
  "encoding": {"x": {"field": "M", "type": "quantitative", "scale": {"domain": [1.3, 2.7]}, "axis": {"orient": "bottom", "values": [1.4, 2, 2.6], "labels": false, "title": null}},
   "y": {"field": "I", "type": "quantitative", "scale": {"domain": [1.23, 5.7]}, "axis": {"orient": "left", "values": [1.5, 3, 4.5], "format": ".2~f", "title": "I (10⁴⁵ g cm²)"}},
   "color": {"field": "s", "type": "nominal", "scale": {"domain": ["GR", "A₁, β₁", "A₁, β₂", "A₂, β₁", "A₂, β₂"], "range": ["#000000", "#ff0000", "#ffa500", "#0000ff", "#b48cff"]}, "legend": {"title": null}},
   "strokeDash": {"field": "s", "type": "nominal", "scale": {"domain": ["GR", "A₁, β₁", "A₁, β₂", "A₂, β₁", "A₂, β₂"], "range": [[1, 0], [5, 4], [3, 4], [1, 0], [1, 0]]}, "legend": {"title": null}},
   "strokeWidth": {"field": "s", "type": "nominal", "scale": {"domain": ["GR", "A₁, β₁", "A₁, β₂", "A₂, β₁", "A₂, β₂"], "range": [1.5, 1.5, 1.5, 2, 1.5]}, "legend": {"title": null}},
   "detail": {"field": "e"}, "order": {"field": "o", "type": "quantitative"}}},
 {"data": {"values": [{"t": "WCS1"}]}, "mark": {"type": "text", "align": "left", "baseline": "middle", "fontSize": 21, "font": "Liberation Serif", "color": "#000"},
  "encoding": {"x": {"datum": 1.4, "type": "quantitative", "scale": {"domain": [1.3, 2.7]}, "axis": {"orient": "top", "values": [1.4, 2, 2.6], "labels": false, "title": null}},
   "y": {"datum": 4.5, "type": "quantitative", "scale": {"domain": [1.23, 5.7]}, "axis": {"orient": "right", "values": [1.5, 3, 4.5], "labels": false, "title": null}}, "text": {"field": "t"}}}
], "resolve": {"axis": {"x": "independent", "y": "independent"}}},

{"width": 263, "height": 239, "layer": [
 {"data": {"name": "curves"}, "transform": [{"filter": "datum.e=='WCS2'"}], "mark": {"type": "line", "clip": true, "interpolate": "catmull-rom"},
  "encoding": {"x": {"field": "M", "type": "quantitative", "scale": {"domain": [1.3, 2.7]}, "axis": {"orient": "bottom", "values": [1.4, 2, 2.6], "labels": false, "title": null}},
   "y": {"field": "I", "type": "quantitative", "scale": {"domain": [1.23, 5.7]}, "axis": {"orient": "left", "values": [1.5, 3, 4.5], "labels": false, "title": null}},
   "color": {"field": "s", "type": "nominal", "scale": {"domain": ["GR", "A₁, β₁", "A₁, β₂", "A₂, β₁", "A₂, β₂"], "range": ["#000000", "#ff0000", "#ffa500", "#0000ff", "#b48cff"]}, "legend": {"title": null}},
   "strokeDash": {"field": "s", "type": "nominal", "scale": {"domain": ["GR", "A₁, β₁", "A₁, β₂", "A₂, β₁", "A₂, β₂"], "range": [[1, 0], [5, 4], [3, 4], [1, 0], [1, 0]]}, "legend": {"title": null}},
   "strokeWidth": {"field": "s", "type": "nominal", "scale": {"domain": ["GR", "A₁, β₁", "A₁, β₂", "A₂, β₁", "A₂, β₂"], "range": [1.5, 1.5, 1.5, 2, 1.5]}, "legend": {"title": null}},
   "detail": {"field": "e"}, "order": {"field": "o", "type": "quantitative"}}},
 {"data": {"values": [{"t": "WCS2"}]}, "mark": {"type": "text", "align": "left", "baseline": "middle", "fontSize": 21, "font": "Liberation Serif", "color": "#000"},
  "encoding": {"x": {"datum": 1.4, "type": "quantitative", "scale": {"domain": [1.3, 2.7]}, "axis": {"orient": "top", "values": [1.4, 2, 2.6], "labels": false, "title": null}},
   "y": {"datum": 4.5, "type": "quantitative", "scale": {"domain": [1.23, 5.7]}, "axis": {"orient": "right", "values": [1.5, 3, 4.5], "labels": false, "title": null}}, "text": {"field": "t"}}}
], "resolve": {"axis": {"x": "independent", "y": "independent"}}},

{"width": 263, "height": 239, "layer": [
 {"data": {"name": "curves"}, "transform": [{"filter": "datum.e=='polytrope'"}], "mark": {"type": "line", "clip": true, "interpolate": "catmull-rom"},
  "encoding": {"x": {"field": "M", "type": "quantitative", "scale": {"domain": [1.3, 2.7]}, "axis": {"orient": "bottom", "values": [1.4, 2, 2.6], "labels": false, "title": null}},
   "y": {"field": "I", "type": "quantitative", "scale": {"domain": [1.23, 5.7]}, "axis": {"orient": "left", "values": [1.5, 3, 4.5], "labels": false, "title": null}},
   "color": {"field": "s", "type": "nominal", "scale": {"domain": ["GR", "A₁, β₁", "A₁, β₂", "A₂, β₁", "A₂, β₂"], "range": ["#000000", "#ff0000", "#ffa500", "#0000ff", "#b48cff"]}, "legend": {"title": null}},
   "strokeDash": {"field": "s", "type": "nominal", "scale": {"domain": ["GR", "A₁, β₁", "A₁, β₂", "A₂, β₁", "A₂, β₂"], "range": [[1, 0], [5, 4], [3, 4], [1, 0], [1, 0]]}, "legend": {"title": null}},
   "strokeWidth": {"field": "s", "type": "nominal", "scale": {"domain": ["GR", "A₁, β₁", "A₁, β₂", "A₂, β₁", "A₂, β₂"], "range": [1.5, 1.5, 1.5, 2, 1.5]}, "legend": {"title": null}},
   "detail": {"field": "e"}, "order": {"field": "o", "type": "quantitative"}}},
 {"data": {"values": [{"t": "polytrope"}]}, "mark": {"type": "text", "align": "left", "baseline": "middle", "fontSize": 21, "font": "Liberation Serif", "color": "#000"},
  "encoding": {"x": {"datum": 1.4, "type": "quantitative", "scale": {"domain": [1.3, 2.7]}, "axis": {"orient": "top", "values": [1.4, 2, 2.6], "labels": false, "title": null}},
   "y": {"datum": 4.5, "type": "quantitative", "scale": {"domain": [1.23, 5.7]}, "axis": {"orient": "right", "values": [1.5, 3, 4.5], "labels": false, "title": null}}, "text": {"field": "t"}}}
], "resolve": {"axis": {"x": "independent", "y": "independent"}}},

{"width": 263, "height": 235, "layer": [
 {"data": {"name": "curves"}, "transform": [{"filter": "datum.e=='WSPHS1'||datum.e=='SLy'"}], "mark": {"type": "line", "clip": true, "interpolate": "catmull-rom"},
  "encoding": {"x": {"field": "M", "type": "quantitative", "scale": {"domain": [1.3, 2.7]}, "axis": {"orient": "bottom", "values": [1.4, 2, 2.6], "labels": false, "title": null}},
   "y": {"field": "I", "type": "quantitative", "scale": {"domain": [1.23, 5.7]}, "axis": {"orient": "left", "values": [1.5, 3, 4.5], "format": ".2~f", "title": "I (10⁴⁵ g cm²)"}},
   "color": {"field": "s", "type": "nominal", "scale": {"domain": ["GR", "A₁, β₁", "A₁, β₂", "A₂, β₁", "A₂, β₂"], "range": ["#000000", "#ff0000", "#ffa500", "#0000ff", "#b48cff"]}, "legend": {"title": null}},
   "strokeDash": {"field": "s", "type": "nominal", "scale": {"domain": ["GR", "A₁, β₁", "A₁, β₂", "A₂, β₁", "A₂, β₂"], "range": [[1, 0], [5, 4], [3, 4], [1, 0], [1, 0]]}, "legend": {"title": null}},
   "strokeWidth": {"field": "s", "type": "nominal", "scale": {"domain": ["GR", "A₁, β₁", "A₁, β₂", "A₂, β₁", "A₂, β₂"], "range": [1.5, 1.5, 1.5, 2, 1.5]}, "legend": {"title": null}},
   "detail": {"field": "e"}, "order": {"field": "o", "type": "quantitative"}}},
 {"data": {"values": [{"t": "WSPHS1"}]}, "mark": {"type": "text", "align": "left", "baseline": "middle", "fontSize": 21, "font": "Liberation Serif", "color": "#000"},
  "encoding": {"x": {"datum": 1.4, "type": "quantitative", "scale": {"domain": [1.3, 2.7]}, "axis": {"orient": "top", "values": [1.4, 2, 2.6], "labels": false, "title": null}},
   "y": {"datum": 4.5, "type": "quantitative", "scale": {"domain": [1.23, 5.7]}, "axis": {"orient": "right", "values": [1.5, 3, 4.5], "labels": false, "title": null}}, "text": {"field": "t"}}},
 {"data": {"values": [{"t": "SLy"}]}, "mark": {"type": "text", "align": "left", "baseline": "middle", "fontSize": 21, "font": "Liberation Serif", "color": "#000"},
  "encoding": {"x": {"datum": 2.09, "type": "quantitative", "axis": null}, "y": {"datum": 1.72, "type": "quantitative", "axis": null}, "text": {"field": "t"}}}
], "resolve": {"axis": {"x": "independent", "y": "independent"}}},

{"width": 263, "height": 235, "layer": [
 {"data": {"name": "curves"}, "transform": [{"filter": "datum.e=='WSPHS2'||datum.e=='APR4'"}], "mark": {"type": "line", "clip": true, "interpolate": "catmull-rom"},
  "encoding": {"x": {"field": "M", "type": "quantitative", "scale": {"domain": [1.3, 2.7]}, "axis": {"orient": "bottom", "values": [1.4, 2, 2.6], "labels": false, "title": null}},
   "y": {"field": "I", "type": "quantitative", "scale": {"domain": [1.23, 5.7]}, "axis": {"orient": "left", "values": [1.5, 3, 4.5], "labels": false, "title": null}},
   "color": {"field": "s", "type": "nominal", "scale": {"domain": ["GR", "A₁, β₁", "A₁, β₂", "A₂, β₁", "A₂, β₂"], "range": ["#000000", "#ff0000", "#ffa500", "#0000ff", "#b48cff"]}, "legend": {"title": null}},
   "strokeDash": {"field": "s", "type": "nominal", "scale": {"domain": ["GR", "A₁, β₁", "A₁, β₂", "A₂, β₁", "A₂, β₂"], "range": [[1, 0], [5, 4], [3, 4], [1, 0], [1, 0]]}, "legend": {"title": null}},
   "strokeWidth": {"field": "s", "type": "nominal", "scale": {"domain": ["GR", "A₁, β₁", "A₁, β₂", "A₂, β₁", "A₂, β₂"], "range": [1.5, 1.5, 1.5, 2, 1.5]}, "legend": {"title": null}},
   "detail": {"field": "e"}, "order": {"field": "o", "type": "quantitative"}}},
 {"data": {"values": [{"t": "WSPHS2"}]}, "mark": {"type": "text", "align": "left", "baseline": "middle", "fontSize": 21, "font": "Liberation Serif", "color": "#000"},
  "encoding": {"x": {"datum": 1.4, "type": "quantitative", "scale": {"domain": [1.3, 2.7]}, "axis": {"orient": "top", "values": [1.4, 2, 2.6], "labels": false, "title": null}},
   "y": {"datum": 4.5, "type": "quantitative", "scale": {"domain": [1.23, 5.7]}, "axis": {"orient": "right", "values": [1.5, 3, 4.5], "labels": false, "title": null}}, "text": {"field": "t"}}},
 {"data": {"values": [{"t": "APR4"}]}, "mark": {"type": "text", "align": "left", "baseline": "middle", "fontSize": 21, "font": "Liberation Serif", "color": "#000"},
  "encoding": {"x": {"datum": 2.2, "type": "quantitative", "axis": null}, "y": {"datum": 1.98, "type": "quantitative", "axis": null}, "text": {"field": "t"}}}
], "resolve": {"axis": {"x": "independent", "y": "independent"}}},

{"width": 263, "height": 235, "layer": [
 {"data": {"name": "curves"}, "transform": [{"filter": "datum.e=='WSPHS3'"}], "mark": {"type": "line", "clip": true, "interpolate": "catmull-rom"},
  "encoding": {"x": {"field": "M", "type": "quantitative", "scale": {"domain": [1.3, 2.7]}, "axis": {"orient": "bottom", "values": [1.4, 2, 2.6], "labels": false, "title": null}},
   "y": {"field": "I", "type": "quantitative", "scale": {"domain": [1.23, 5.7]}, "axis": {"orient": "left", "values": [1.5, 3, 4.5], "labels": false, "title": null}},
   "color": {"field": "s", "type": "nominal", "scale": {"domain": ["GR", "A₁, β₁", "A₁, β₂", "A₂, β₁", "A₂, β₂"], "range": ["#000000", "#ff0000", "#ffa500", "#0000ff", "#b48cff"]}, "legend": {"title": null}},
   "strokeDash": {"field": "s", "type": "nominal", "scale": {"domain": ["GR", "A₁, β₁", "A₁, β₂", "A₂, β₁", "A₂, β₂"], "range": [[1, 0], [5, 4], [3, 4], [1, 0], [1, 0]]}, "legend": {"title": null}},
   "strokeWidth": {"field": "s", "type": "nominal", "scale": {"domain": ["GR", "A₁, β₁", "A₁, β₂", "A₂, β₁", "A₂, β₂"], "range": [1.5, 1.5, 1.5, 2, 1.5]}, "legend": {"title": null}},
   "detail": {"field": "e"}, "order": {"field": "o", "type": "quantitative"}}},
 {"data": {"values": [{"t": "WSPHS3"}]}, "mark": {"type": "text", "align": "left", "baseline": "middle", "fontSize": 21, "font": "Liberation Serif", "color": "#000"},
  "encoding": {"x": {"datum": 1.4, "type": "quantitative", "scale": {"domain": [1.3, 2.7]}, "axis": {"orient": "top", "values": [1.4, 2, 2.6], "labels": false, "title": null}},
   "y": {"datum": 4.5, "type": "quantitative", "scale": {"domain": [1.23, 5.7]}, "axis": {"orient": "right", "values": [1.5, 3, 4.5], "labels": false, "title": null}}, "text": {"field": "t"}}}
], "resolve": {"axis": {"x": "independent", "y": "independent"}}},

{"width": 263, "height": 224, "layer": [
 {"data": {"name": "curves"}, "transform": [{"filter": "datum.e=='ALF2'"}], "mark": {"type": "line", "clip": true, "interpolate": "catmull-rom"},
  "encoding": {"x": {"field": "M", "type": "quantitative", "scale": {"domain": [1.3, 2.7]}, "axis": {"orient": "bottom", "values": [1.4, 2, 2.6], "format": "~g", "title": "M (M⊙)"}},
   "y": {"field": "I", "type": "quantitative", "scale": {"domain": [1.23, 5.7]}, "axis": {"orient": "left", "values": [1.5, 3, 4.5], "format": ".2~f", "title": "I (10⁴⁵ g cm²)"}},
   "color": {"field": "s", "type": "nominal", "scale": {"domain": ["GR", "A₁, β₁", "A₁, β₂", "A₂, β₁", "A₂, β₂"], "range": ["#000000", "#ff0000", "#ffa500", "#0000ff", "#b48cff"]}, "legend": {"title": null}},
   "strokeDash": {"field": "s", "type": "nominal", "scale": {"domain": ["GR", "A₁, β₁", "A₁, β₂", "A₂, β₁", "A₂, β₂"], "range": [[1, 0], [5, 4], [3, 4], [1, 0], [1, 0]]}, "legend": {"title": null}},
   "strokeWidth": {"field": "s", "type": "nominal", "scale": {"domain": ["GR", "A₁, β₁", "A₁, β₂", "A₂, β₁", "A₂, β₂"], "range": [1.5, 1.5, 1.5, 2, 1.5]}, "legend": {"title": null}},
   "detail": {"field": "e"}, "order": {"field": "o", "type": "quantitative"}}},
 {"data": {"values": [{"t": "ALF2"}]}, "mark": {"type": "text", "align": "left", "baseline": "middle", "fontSize": 21, "font": "Liberation Serif", "color": "#000"},
  "encoding": {"x": {"datum": 1.4, "type": "quantitative", "scale": {"domain": [1.3, 2.7]}, "axis": {"orient": "top", "values": [1.4, 2, 2.6], "labels": false, "title": null}},
   "y": {"datum": 4.5, "type": "quantitative", "scale": {"domain": [1.23, 5.7]}, "axis": {"orient": "right", "values": [1.5, 3, 4.5], "labels": false, "title": null}}, "text": {"field": "t"}}}
], "resolve": {"axis": {"x": "independent", "y": "independent"}}},

{"width": 263, "height": 224, "layer": [
 {"data": {"name": "curves"}, "transform": [{"filter": "datum.e=='ALF4'"}], "mark": {"type": "line", "clip": true, "interpolate": "catmull-rom"},
  "encoding": {"x": {"field": "M", "type": "quantitative", "scale": {"domain": [1.3, 2.7]}, "axis": {"orient": "bottom", "values": [1.4, 2, 2.6], "format": ".1f", "title": "M (M⊙)"}},
   "y": {"field": "I", "type": "quantitative", "scale": {"domain": [1.23, 5.7]}, "axis": {"orient": "left", "values": [1.5, 3, 4.5], "labels": false, "title": null}},
   "color": {"field": "s", "type": "nominal", "scale": {"domain": ["GR", "A₁, β₁", "A₁, β₂", "A₂, β₁", "A₂, β₂"], "range": ["#000000", "#ff0000", "#ffa500", "#0000ff", "#b48cff"]}, "legend": {"title": null}},
   "strokeDash": {"field": "s", "type": "nominal", "scale": {"domain": ["GR", "A₁, β₁", "A₁, β₂", "A₂, β₁", "A₂, β₂"], "range": [[1, 0], [5, 4], [3, 4], [1, 0], [1, 0]]}, "legend": {"title": null}},
   "strokeWidth": {"field": "s", "type": "nominal", "scale": {"domain": ["GR", "A₁, β₁", "A₁, β₂", "A₂, β₁", "A₂, β₂"], "range": [1.5, 1.5, 1.5, 2, 1.5]}, "legend": {"title": null}},
   "detail": {"field": "e"}, "order": {"field": "o", "type": "quantitative"}}},
 {"data": {"values": [{"t": "ALF4"}]}, "mark": {"type": "text", "align": "left", "baseline": "middle", "fontSize": 21, "font": "Liberation Serif", "color": "#000"},
  "encoding": {"x": {"datum": 1.4, "type": "quantitative", "scale": {"domain": [1.3, 2.7]}, "axis": {"orient": "top", "values": [1.4, 2, 2.6], "labels": false, "title": null}},
   "y": {"datum": 4.5, "type": "quantitative", "scale": {"domain": [1.23, 5.7]}, "axis": {"orient": "right", "values": [1.5, 3, 4.5], "labels": false, "title": null}}, "text": {"field": "t"}}}
], "resolve": {"axis": {"x": "independent", "y": "independent"}}},

{"width": 263, "height": 224, "layer": [
 {"data": {"name": "curves"}, "transform": [{"filter": "datum.e=='BS4'"}], "mark": {"type": "line", "clip": true, "interpolate": "catmull-rom"},
  "encoding": {"x": {"field": "M", "type": "quantitative", "scale": {"domain": [1.3, 2.7]}, "axis": {"orient": "bottom", "values": [1.4, 2, 2.6], "format": ".1f", "title": "M (M⊙)"}},
   "y": {"field": "I", "type": "quantitative", "scale": {"domain": [1.23, 5.7]}, "axis": {"orient": "left", "values": [1.5, 3, 4.5], "labels": false, "title": null}},
   "color": {"field": "s", "type": "nominal", "scale": {"domain": ["GR", "A₁, β₁", "A₁, β₂", "A₂, β₁", "A₂, β₂"], "range": ["#000000", "#ff0000", "#ffa500", "#0000ff", "#b48cff"]}, "legend": {"title": null}},
   "strokeDash": {"field": "s", "type": "nominal", "scale": {"domain": ["GR", "A₁, β₁", "A₁, β₂", "A₂, β₁", "A₂, β₂"], "range": [[1, 0], [5, 4], [3, 4], [1, 0], [1, 0]]}, "legend": {"title": null}},
   "strokeWidth": {"field": "s", "type": "nominal", "scale": {"domain": ["GR", "A₁, β₁", "A₁, β₂", "A₂, β₁", "A₂, β₂"], "range": [1.5, 1.5, 1.5, 2, 1.5]}, "legend": {"title": null}},
   "detail": {"field": "e"}, "order": {"field": "o", "type": "quantitative"}}},
 {"data": {"values": [{"t": "BS4"}]}, "mark": {"type": "text", "align": "left", "baseline": "middle", "fontSize": 21, "font": "Liberation Serif", "color": "#000"},
  "encoding": {"x": {"datum": 1.4, "type": "quantitative", "scale": {"domain": [1.3, 2.7]}, "axis": {"orient": "top", "values": [1.4, 2, 2.6], "labels": false, "title": null}},
   "y": {"datum": 4.5, "type": "quantitative", "scale": {"domain": [1.23, 5.7]}, "axis": {"orient": "right", "values": [1.5, 3, 4.5], "labels": false, "title": null}}, "text": {"field": "t"}}}
], "resolve": {"axis": {"x": "independent", "y": "independent"}}}
],
"config": {
 "view": {"stroke": null},
 "font": "Liberation Serif",
 "axis": {"grid": false, "domainColor": "#000000", "domainWidth": 2, "tickColor": "#000000", "tickWidth": 1, "tickSize": -5, "labelFont": "Liberation Serif", "labelFontSize": 16, "labelColor": "#000000", "labelPadding": 11, "titleFont": "Liberation Serif", "titleFontSize": 17, "titleFontWeight": "normal", "titleColor": "#000000"},
 "axisLeft": {"titlePadding": 34, "titleY": 144},
 "axisBottom": {"labelPadding": 15, "titlePadding": 10, "titleX": 144},
 "legend": {"orient": "none", "legendX": 747, "legendY": 6, "symbolType": "stroke", "symbolSize": 260, "labelFont": "Liberation Serif", "labelFontSize": 16, "labelColor": "#000000", "labelAlign": "right", "labelOffset": -31, "rowPadding": 1}
}
}
